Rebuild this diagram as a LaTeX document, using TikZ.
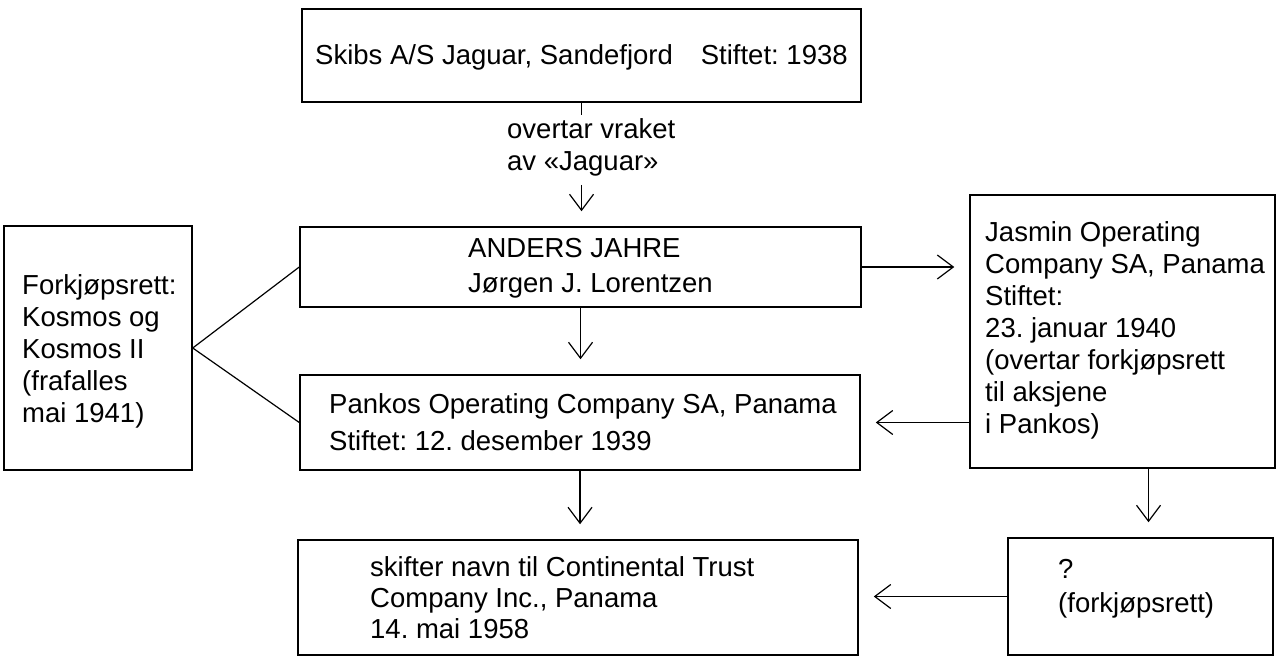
\documentclass[tikz,border=0pt]{standalone}
\usepackage{fontspec}
\setmainfont{Liberation Sans}
\frenchspacing
\usetikzlibrary{arrows.meta,fit}
\begin{document}
\begin{tikzpicture}[x=1pt,y=-1pt,
  box/.style={draw, line width=1.5pt, inner sep=0pt},
  txt/.style={inner sep=0pt, align=left, anchor=base west, font=\fontsize{27.5}{32}\selectfont\frenchspacing},
  conn/.style={line width=1.2pt},
  arr/.style={conn, -{Straight Barb[length=16pt,width=24pt,line width=1.2pt]}, shorten >=15pt}
]
\fill[white] (0,0) rectangle (1279,658);
\useasboundingbox (0,0) rectangle (1279,658);

% boxes
\node[box, fit={(302,9) (861,102)}] (skibs) {};
\node[box, fit={(300,227) (861,307)}] (anders) {};
\node[box, fit={(300,375) (860,470)}] (pankos) {};
\node[box, fit={(298,540) (858,655)}] (cont) {};
\node[box, fit={(4,226) (192,470)}] (fork) {};
\node[box, fit={(970,195) (1275,468)}] (jasmin) {};
\node[box, fit={(1008,538) (1273,655)}] (q) {};

% texts (anchored at the baseline of their last line)
\node[txt] (skibs-t) at (315,65) {Skibs A/S Jaguar, Sandefjord\hspace{28pt}Stiftet: 1938};
\node[txt, inner ysep=3pt] (lbl) at (507,170) {overtar vraket\\av «Jaguar»};
\node[txt] (anders-t) at (468,292) {ANDERS JAHRE\\[3pt]Jørgen J. Lorentzen};
\node[txt] (pankos-t) at (329,450) {Pankos Operating Company SA, Panama\\[5pt]Stiftet: 12. desember 1939};
\node[txt] (cont-t) at (370,638) {skifter navn til Continental Trust\\[-1pt]Company Inc., Panama\\[-1pt]14. mai 1958};
\node[txt] (fork-t) at (22,422) {Forkjøpsrett:\\Kosmos og\\Kosmos II\\(frafalles\\mai 1941)};
\node[txt] (jasmin-t) at (985,433) {Jasmin Operating\\Company SA, Panama\\Stiftet:\\23. januar 1940\\(overtar forkjøpsrett\\til aksjene\\i Pankos)};
\node[txt] (q-t) at (1058,612) {?\\[2pt](forkjøpsrett)};

% connectors
\draw[conn] (skibs.south) -- (skibs.south |- lbl.north);
\draw[arr, shorten <=6pt] (skibs.south |- lbl.south) -- (skibs.south |- anders.north);
\draw[arr] (anders.south) -- (anders.south |- pankos.north);
\draw[arr] (pankos.south) -- (pankos.south |- cont.north);
\draw[arr] (anders.east) -- (anders.east -| jasmin.west);
\draw[arr] (jasmin.west |- pankos.east) -- (pankos.east);
\draw[arr] ([xshift=26pt]jasmin.south) -- ([xshift=26pt]jasmin.south |- q.north);
\draw[arr] (q.west) -- (q.west -| cont.east);
\draw[conn] (fork.east) -- (anders.west);
\draw[conn] (fork.east) -- (pankos.west);
\end{tikzpicture}
\end{document}
